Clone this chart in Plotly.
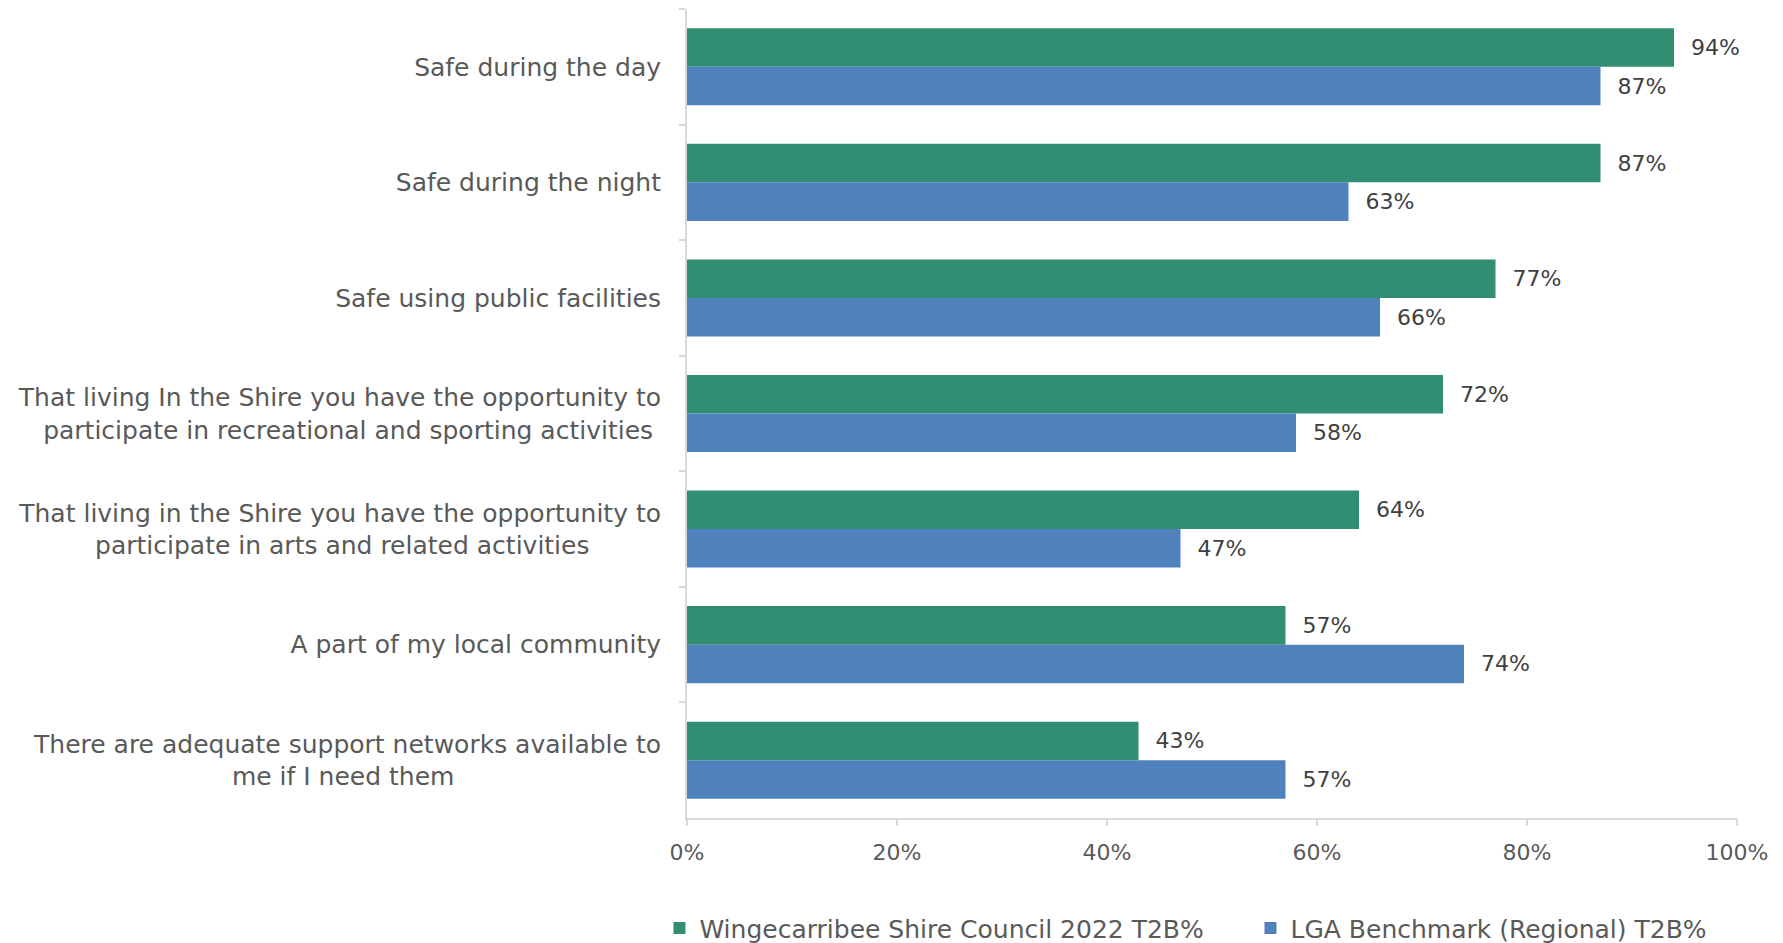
import plotly.graph_objects as go

categories = [
    "Safe during the day",
    "Safe during the night",
    "Safe using public facilities",
    "That living In the Shire you have the opportunity to<br>participate in recreational and sporting activities\u00a0",
    "That living in the Shire you have the opportunity to<br>participate in arts and related activities" + "\u00a0" * 9,
    "A part of my local community",
    "There are adequate support networks available to<br>me if I need them" + "\u00a0" * 26,
]
shire_2022 = [0.94, 0.87, 0.77, 0.72, 0.64, 0.57, 0.43]
lga_benchmark = [0.87, 0.63, 0.66, 0.58, 0.47, 0.74, 0.57]

GREEN = "#318E73"
BLUE = "#4F81BD"
FONT = "DejaVu Sans"

fig = go.Figure()
fig.add_trace(go.Bar(
    y=categories, x=shire_2022, orientation="h",
    name="Wingecarribee Shire Council 2022 T2B%", legend="legend",
    marker_color=GREEN, marker_line_width=0,
    text=[f"\u00a0\u00a0{v:.0%}" for v in shire_2022], textposition="outside",
    textfont=dict(color="#404040", size=22, family=FONT), cliponaxis=False,
))
fig.add_trace(go.Bar(
    y=categories, x=lga_benchmark, orientation="h",
    name="LGA Benchmark (Regional) T2B%", legend="legend2",
    marker_color=BLUE, marker_line_width=0,
    text=[f"\u00a0\u00a0{v:.0%}" for v in lga_benchmark], textposition="outside",
    textfont=dict(color="#404040", size=22, family=FONT), cliponaxis=False,
))

legend_style = dict(orientation="h", xref="container", xanchor="left",
                    y=-0.108, yanchor="top", itemwidth=30,
                    font=dict(size=25, color="#595959"))

# page body has an 8px margin, so the figure is sized to the visible area
fig.update_layout(
    barmode="group", bargap=0.333, bargroupgap=0,
    width=1775, height=935,
    paper_bgcolor="white", plot_bgcolor="white",
    font=dict(family=FONT, color="#595959", size=22),
    margin=dict(l=679, r=46, t=1, b=125, autoexpand=False),
    showlegend=True,
    legend=dict(x=0.367, **legend_style),
    legend2=dict(x=0.700, **legend_style),
    xaxis=dict(range=[0, 1], tickformat=".0%", dtick=0.2, showgrid=False,
               showline=True, linecolor="#d9d9d9", linewidth=2,
               ticks="outside", ticklen=6, tickcolor="#d9d9d9", tickwidth=2,
               ticklabelstandoff=8, automargin=False,
               zeroline=False, tickfont=dict(size=22, color="#595959")),
    yaxis=dict(autorange="reversed", showgrid=False, showline=True,
               linecolor="#d9d9d9", linewidth=2, ticks="outside", ticklen=6,
               tickcolor="#d9d9d9", tickwidth=2, tickson="boundaries",
               ticklabelstandoff=19, automargin=False,
               tickfont=dict(size=25, color="#595959")),
)

fig.write_html("out.html")
